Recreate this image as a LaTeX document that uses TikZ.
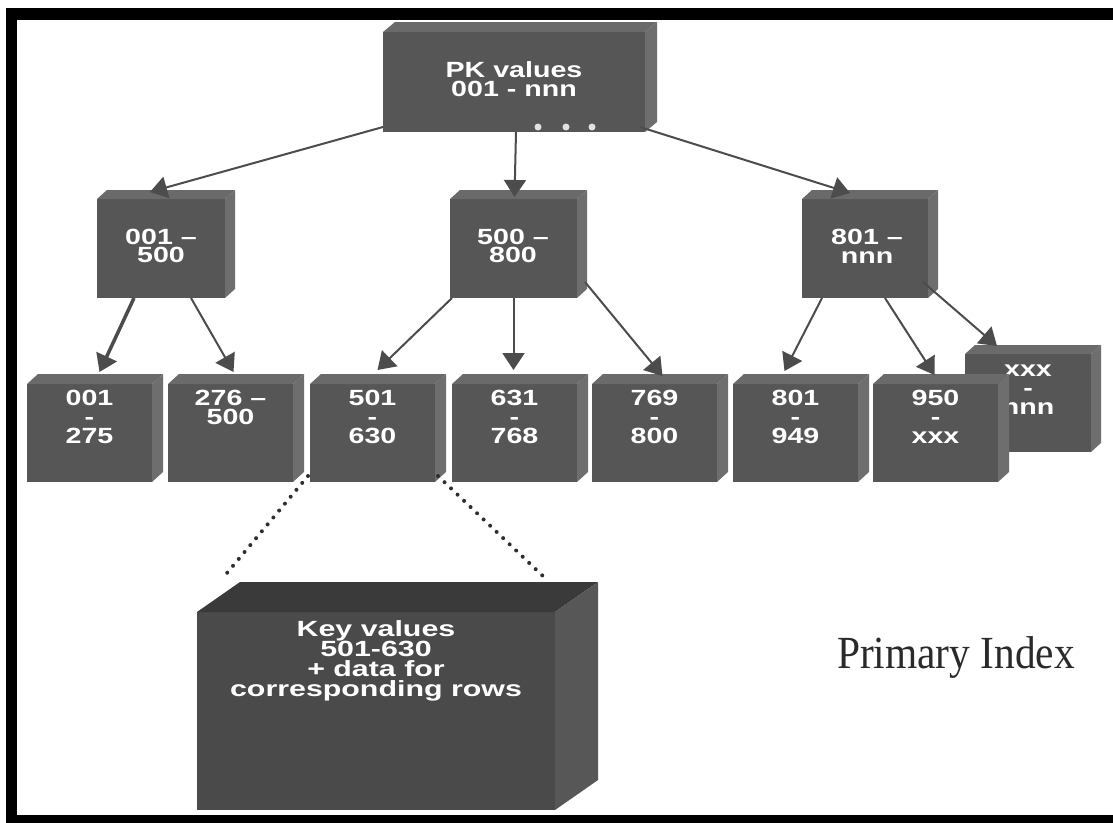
\documentclass[tikz,border=0pt]{standalone}
\usepackage{fontspec}
\newfontfamily\boxfont{Liberation Sans}
\newfontfamily\captionfont{Liberation Serif}
\usetikzlibrary{calc,arrows.meta}
\setlength{\lineskiplimit}{-50pt}

\definecolor{frontgray}{HTML}{565656}
\definecolor{topgray}{HTML}{6A6A6A}
\definecolor{sidegray}{HTML}{6E6E6E}
\definecolor{keyfront}{HTML}{4A4A4A}
\definecolor{keytop}{HTML}{3A3A3A}
\definecolor{keyside}{HTML}{575757}
\definecolor{arrowgray}{HTML}{4C4C4C}
\definecolor{dotgray}{HTML}{2E2E2E}
\definecolor{captiongray}{HTML}{2A2A2A}

% a box drawn as a cube: front face node plus top and right faces
% #1 name, #2 #3 top-left, #4 #5 bottom-right, #6 #7 depth offset
\newcommand\cubebox[7]{%
  \node[frontface, minimum width={#4-#2}, minimum height={#5-#3}] (#1)
    at ({(#2+#4)/2},{(#3+#5)/2}) {};
  \fill[topface] (#1.north west) -- ++(#6,#7)
    -- ([shift={(#6,#7)}]#1.north east) -- (#1.north east) -- cycle;
  \fill[sideface] (#1.north east) -- ++(#6,#7)
    -- ([shift={(#6,#7)}]#1.south east) -- (#1.south east) -- cycle;
}

\newcommand\boxfontA{\boxfont\bfseries\fontsize{22}{18.8}\selectfont}
\newcommand\boxfontB{\boxfont\bfseries\fontsize{22}{20}\selectfont}

\tikzset{
  frontface/.style={fill=frontgray, draw=none, inner sep=0pt, outer sep=0pt},
  topface/.style={fill=topgray},
  sideface/.style={fill=sidegray},
  boxtext/.style={font=\boxfontA, text=white, align=center, inner sep=0pt, xscale=1.3},
  keytext/.style={font=\boxfontB, text=white, align=center, inner sep=0pt, xscale=1.38},
  captiontext/.style={font=\captionfont\fontsize{46}{54}\selectfont,
    text=captiongray, inner sep=0pt, xscale=0.9},
  arrowline/.style={draw=arrowgray, line width=2pt,
    -{Triangle[length=17pt,width=22pt,fill=arrowgray]}},
  dotline/.style={draw=dotgray, line width=4pt, line cap=round,
    dash pattern=on 0pt off 9pt},
}

\begin{document}
\begin{tikzpicture}[x=1pt, y=-1pt]
  \useasboundingbox (0,0) rectangle (1113,822);
  \clip (0,0) rectangle (1113,822);
  \fill[white] (0,0) rectangle (1113,822);

  % root of the index
  \cubebox{root}{383}{32}{645}{132}{12}{-10}

  % second level
  \cubebox{m1}{97}{199}{225}{298}{10}{-9}
  \cubebox{m2}{450}{199}{577}{298}{10}{-9}
  \cubebox{m3}{802}{199}{928}{298}{10}{-9}

  % leaf pages (the last one sits behind its neighbour)
  \cubebox{b8}{965}{354}{1091}{452}{10}{-9}
  \node[boxtext, anchor=north] (b8lbl) at (1028,364.6) {xxx\\-\\nnn};
  \cubebox{b1}{27}{384}{152}{482}{11}{-10}
  \cubebox{b2}{168}{384}{293}{482}{11}{-10}
  \cubebox{b3}{310}{384}{435}{482}{11}{-10}
  \cubebox{b4}{452}{384}{577}{482}{11}{-10}
  \cubebox{b5}{592}{384}{717}{482}{11}{-10}
  \cubebox{b6}{733}{384}{858}{482}{11}{-10}
  \cubebox{b7}{873}{384}{998}{482}{11}{-10}

  % data page
  \begin{scope}[frontface/.append style={fill=keyfront},
                topface/.style={fill=keytop}, sideface/.style={fill=keyside}]
    \cubebox{key}{197}{612}{555}{810}{43}{-30}
  \end{scope}

  % labels
  \node[boxtext] (rootlbl) at (514,79) {PK values\\001 - nnn};
  \fill[white!88!black] ([shift={(24,-5)}]root.south) circle[radius=3.5pt];
  \fill[white!88!black] ([shift={(52,-5)}]root.south) circle[radius=3.5pt];
  \fill[white!88!black] ([shift={(78,-5)}]root.south) circle[radius=3.5pt];

  \node[boxtext] (m1lbl) at (161,246) {001 –\\500};
  \node[boxtext] (m2lbl) at (513,246) {500 –\\800};
  \node[boxtext] (m3lbl) at (867,246) {801 –\\nnn};

  \node[boxtext, anchor=north] (b1lbl) at (89.5,390) {001\\-\\275};
  \node[boxtext, anchor=north] (b2lbl) at (230.5,390) {276 –\\500};
  \node[boxtext, anchor=north] (b3lbl) at (372.5,390) {501\\-\\630};
  \node[boxtext, anchor=north] (b4lbl) at (514.5,390) {631\\-\\768};
  \node[boxtext, anchor=north] (b5lbl) at (654.5,390) {769\\-\\800};
  \node[boxtext, anchor=north] (b6lbl) at (795.5,390) {801\\-\\949};
  \node[boxtext, anchor=north] (b7lbl) at (935.5,390) {950\\-\\xxx};

  \node[keytext, anchor=north] (keylbl) at (376,620)
    {Key values\\501-630\\+ data for\\corresponding rows};

  \node[captiontext, anchor=base] (caption) at (956,668) {Primary Index};

  % tree links
  \draw[arrowline] ([shift={(0,-5)}]root.south west) -- ([shift={(-11,-7)}]m1.north);
  \draw[arrowline] ([shift={(2,0)}]root.south) -- ([shift={(1,-2)}]m2.north);
  \draw[arrowline] ([shift={(-5,-5)}]root.south east) -- ([shift={(-15,-6)}]m3.north);

  \draw[arrowline, line width=3.5pt] ([shift={(37,0)}]m1.south west) -- ([shift={(10,-12)}]b1.north);
  \draw[arrowline] ([shift={(94,0)}]m1.south west) -- ([shift={(3,-12)}]b2.north);

  \draw[arrowline] ([shift={(2,0)}]m2.south west) -- ([shift={(5,-14)}]b3.north);
  \draw[arrowline] (m2.south) -- ([shift={(-1,-14)}]b4.north);
  \draw[arrowline] ([shift={(8,-16)}]m2.south east) -- ([shift={(8,-8)}]b5.north);

  \draw[arrowline] ([shift={(20,0)}]m3.south west) -- ([shift={(-11,-13)}]b6.north);
  \draw[arrowline] ([shift={(83,0)}]m3.south west) -- ([shift={(-1,-9)}]b7.north);
  \draw[arrowline] ([shift={(-5,-16)}]m3.south east) -- ([shift={(-31,-8)}]b8.north);

  % zoom-in to the data page
  \coordinate (keyleft) at ([shift={(25,-33)}]key.north west);
  \coordinate (keyright) at ([shift={(-10,-34)}]key.north east);
  \draw[dotline] ([shift={(-2,-6)}]b3.south west) -- (keyleft);
  \draw[dotline] ([shift={(3,-6)}]b3.south east) -- (keyright);

  % frame
  \draw[black, line width=11.5pt] (11.5,14) rectangle (1140,821);
\end{tikzpicture}
\end{document}
